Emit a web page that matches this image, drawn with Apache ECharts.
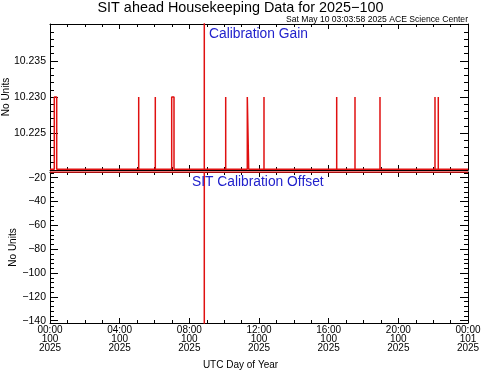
<!DOCTYPE html>
<html>
<head>
<meta charset="utf-8">
<script src="https://cdn.jsdelivr.net/npm/echarts@6/dist/echarts.min.js"></script>
<style>
html,body{margin:0;padding:0;background:#fff;}
#c{width:481px;height:371px;}
</style>
</head>
<body>
<div id="c"></div>
<script>
// ---- data ----
const xTickHours = [0, 4, 8, 12, 16, 20, 24];
const xTickTimes = ['00:00', '04:00', '08:00', '12:00', '16:00', '20:00', '00:00'];
const xTickDays = ['100', '100', '100', '100', '100', '100', '101'];
const xTickYear = '2025';

const gainTickLabels = [10.225, 10.230, 10.235];
const offsetTickLabels = [-20, -40, -60, -80, -100, -120, -140];

// Calibration Gain: baseline with short pulses (start/end in hours of day 100)
const gainBase = 10.22;
const gainHigh = 10.23;
const gainPulseStart = [0.247, 5.093, 6.046, 6.987, 10.088, 11.328, 12.287, 16.461, 17.512, 18.947, 22.105, 22.294];
const gainPulseEnd   = [0.385, 5.093, 6.046, 7.120, 10.088, 11.408, 12.287, 16.461, 17.512, 18.947, 22.105, 22.294];

// data gap / bad sample at ~08:52
const gapHour = 8.859;
const gapGain = 99;
const gapOffset = -999;

// SIT Calibration Offset: constant value
const offsetValue = -15.2;

// ---- build series data ----
const events = gainPulseStart.map((s, i) => ({ s: s, e: gainPulseEnd[i], v: gainHigh }));
events.push({ s: gapHour, e: gapHour, v: gapGain });
events.sort((a, b) => a.s - b.s);
const gainData = [[0, gainBase]];
events.forEach(ev => {
  gainData.push([ev.s, gainBase], [ev.s, ev.v], [ev.e, ev.v], [ev.e, gainBase]);
});
gainData.push([24, gainBase]);

const offsetData = [[0, offsetValue], [gapHour, offsetValue], [gapHour, gapOffset], [gapHour, offsetValue], [24, offsetValue]];

function range(a, b, step, dec) {
  const out = [];
  const n = Math.round((b - a) / step);
  for (let i = 0; i <= n; i++) out.push(+(a + i * step).toFixed(dec));
  return out;
}
const gainMinor = range(10.220, 10.240, 0.001, 3);
const offsetMinor = range(-140, -16, 4, 0);

const gainMin = 10.2199, gainMax = 10.2401;
const offMin = -141.9, offMax = -15.2;

const FONT = 'Liberation Sans';
const axisLine = { show: true, onZero: false, lineStyle: { color: '#000', width: 1 } };
const noLine = { show: false, onZero: false };

function xAxes(gridIndex, showLabels) {
  const base = {
    type: 'value', gridIndex: gridIndex, min: 0, max: 24, interval: 4,
    axisLine: axisLine, splitLine: { show: false },
    axisTick: { show: true, inside: true, length: 5, lineStyle: { color: '#000' } },
    minorTick: { show: true, splitNumber: 4, length: 3, lineStyle: { color: '#000' } },
  };
  return [
    Object.assign({}, base, {
      position: 'bottom',
      axisLabel: showLabels ? {
        show: true, margin: 3, fontFamily: FONT, fontSize: 10, color: '#000', lineHeight: 9,
        showMinLabel: true, showMaxLabel: true, hideOverlap: false,
        formatter: function (v) {
          const i = xTickHours.indexOf(v);
          return i < 0 ? '' : xTickTimes[i] + '\n' + xTickDays[i] + '\n' + xTickYear;
        }
      } : { show: false }
    }),
    Object.assign({}, base, { position: 'top', axisLabel: { show: false } })
  ];
}

function yAxes(gridIndex, mn, mx, labels, minor, fmt, nameGap) {
  const common = { type: 'value', gridIndex: gridIndex, min: mn, max: mx, splitLine: { show: false } };
  return [
    Object.assign({}, common, {
      position: 'left', axisLine: axisLine,
      name: 'No Units', nameLocation: 'middle', nameRotate: 90, nameGap: nameGap, nameMoveOverlap: false,
      nameTextStyle: { fontFamily: FONT, fontSize: 10, color: '#000' },
      axisTick: { show: true, inside: true, length: 8, customValues: labels, lineStyle: { color: '#000' } },
      axisLabel: { show: true, customValues: labels, margin: 4, fontFamily: FONT, fontSize: 10.5, color: '#000', formatter: fmt }
    }),
    Object.assign({}, common, {
      position: 'left', axisLine: noLine, axisLabel: { show: false },
      axisTick: { show: true, inside: true, length: 4, customValues: minor, lineStyle: { color: '#000' } }
    }),
    Object.assign({}, common, {
      position: 'right', axisLine: axisLine, axisLabel: { show: false },
      axisTick: { show: true, inside: true, length: 8, customValues: labels, lineStyle: { color: '#000' } }
    }),
    Object.assign({}, common, {
      position: 'right', axisLine: noLine, axisLabel: { show: false },
      axisTick: { show: true, inside: true, length: 4, customValues: minor, lineStyle: { color: '#000' } }
    })
  ];
}

const chart = echarts.init(document.getElementById('c'), null, { renderer: 'canvas' });
chart.setOption({
  backgroundColor: '#fff',
  animation: false,
  title: [
    { text: 'SIT ahead Housekeeping Data for 2025\u2212100', left: 'center', top: 1, padding: 0,
      textStyle: { fontFamily: FONT, fontSize: 14.4, fontWeight: 'normal', color: '#000' } },
    { text: 'Sat May 10 03:03:58 2025 ACE Science Center', right: 13, top: 15, padding: 0,
      textStyle: { fontFamily: FONT, fontSize: 8.6, fontWeight: 'normal', color: '#000' } },
    { text: 'Calibration Gain', left: 209, top: 27, padding: 0,
      textStyle: { fontFamily: FONT, fontSize: 13.8, fontWeight: 'normal', color: '#2222cc' } },
    { text: 'SIT Calibration Offset', left: 192, top: 175.5, padding: 0,
      textStyle: { fontFamily: FONT, fontSize: 13.8, fontWeight: 'normal', color: '#2222cc' } },
    { text: 'UTC Day of Year', left: 'center', top: 360, padding: 0,
      textStyle: { fontFamily: FONT, fontSize: 10, fontWeight: 'normal', color: '#000' } }
  ],
  grid: [
    { left: 50, top: 24, width: 418, height: 146, containLabel: false, outerBoundsMode: 'none' },
    { left: 50, top: 172, width: 418, height: 151, containLabel: false, outerBoundsMode: 'none' }
  ],
  xAxis: [].concat(xAxes(0, false), xAxes(1, true)),
  yAxis: [].concat(
    yAxes(0, gainMin, gainMax, gainTickLabels, gainMinor, v => v.toFixed(3), 39),
    yAxes(1, offMin, offMax, offsetTickLabels, offsetMinor, v => String(v).replace('-', '\u2212'), 32)
  ),
  series: [
    { type: 'line', xAxisIndex: 0, yAxisIndex: 0, data: gainData, symbol: 'none', clip: true,
      lineStyle: { color: '#e01010', width: 1.5 } },
    { type: 'line', xAxisIndex: 2, yAxisIndex: 4, data: offsetData, symbol: 'none', clip: true,
      lineStyle: { color: '#e01010', width: 1.5 } }
  ]
});
</script>
</body>
</html>
